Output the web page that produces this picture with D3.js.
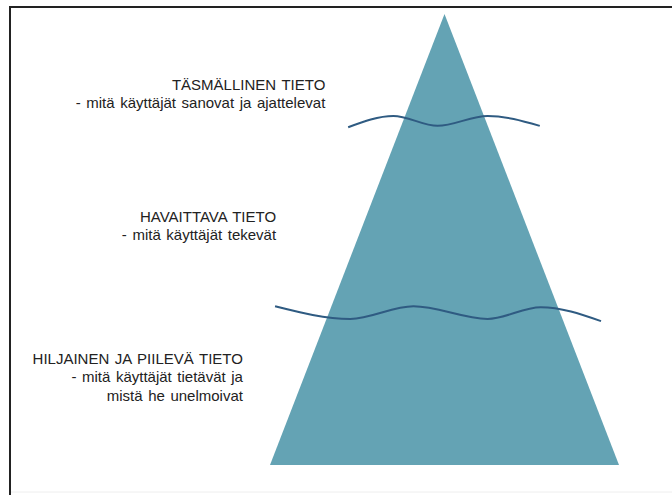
<!DOCTYPE html>
<html>
<head>
<meta charset="utf-8">
<script src="https://cdn.jsdelivr.net/npm/d3@7"></script>
<style>
    html, body { margin: 0; padding: 0; background: #fff; }
    text { font-family: "Liberation Sans", Arial, sans-serif; fill: #222; word-spacing: 1.4px; }
</style>
</head>
<body>
<div id="chart"></div>
<script>
// pyramid in its own units: x -1..1 across the base, depth 0 (apex) .. 1 (base)
var pyramidX = [0, -1, 1];
var pyramidDepth = [0, 1, 1];

// wavy water lines
var wave1X = [-0.552, -0.293, -0.040, 0.247, 0.546];
var wave1Depth = [0.251, 0.226, 0.248, 0.226, 0.248];
var wave2X = [-0.971, -0.540, -0.178, 0.247, 0.552, 0.897];
var wave2Depth = [0.648, 0.676, 0.648, 0.676, 0.650, 0.681];

// labels for each tier
var tierTitles = ["TÄSMÄLLINEN TIETO", "HAVAITTAVA TIETO", "HILJAINEN JA PIILEVÄ TIETO"];
var tierLines = [
    ["- mitä käyttäjät sanovat ja ajattelevat"],
    ["- mitä käyttäjät tekevät"],
    ["- mitä käyttäjät tietävät ja", "mistä he unelmoivat"]
];
var tierDepth = [0.168, 0.461, 0.776];
var tierRight = [-0.683, -0.965, -1.155];

function Pyramid() {
    var self = this;
    self.init();
}

Pyramid.prototype.init = function () {
    var self = this;
    d3.select("#chart").select("svg").remove();
    self.svg = d3.select("#chart").append("svg")
        .attr("width", 672)
        .attr("height", 495);

    self.x = d3.scaleLinear().domain([-1, 1]).range([270, 619]);
    self.y = d3.scaleLinear().domain([0, 1]).range([14, 465]);
};

Pyramid.prototype.update = function () {
    var self = this;
    var x = self.x, y = self.y;

    //frame, top and left only
    self.svg.append("line")
        .attr("x1", 9).attr("y1", 7).attr("x2", 672).attr("y2", 7)
        .style("stroke", "#222").style("stroke-width", 2);
    self.svg.append("line")
        .attr("x1", 10).attr("y1", 6).attr("x2", 10).attr("y2", 495)
        .style("stroke", "#222").style("stroke-width", 2);
    self.svg.append("line")
        .attr("x1", 11).attr("y1", 492).attr("x2", 672).attr("y2", 492)
        .style("stroke", "#eee").style("stroke-width", 1);

    //the pyramid
    var tri = pyramidX.map(function (d, i) { return [x(d), y(pyramidDepth[i])]; });
    self.svg.append("path")
        .attr("d", d3.line()(tri) + "Z")
        .style("fill", "#64a3b4");

    //waves
    var wave = d3.line()
        .x(function (d) { return x(d[0]); })
        .y(function (d) { return y(d[1]); })
        .curve(d3.curveMonotoneX);

    [[wave1X, wave1Depth], [wave2X, wave2Depth]].forEach(function (w) {
        var pts = w[0].map(function (d, i) { return [d, w[1][i]]; });
        self.svg.append("path")
            .attr("d", wave(pts))
            .style("fill", "none")
            .style("stroke", "#2f5b82")
            .style("stroke-width", 2);
    });

    //tier labels
    tierTitles.forEach(function (t, i) {
        var g = self.svg.append("text")
            .attr("text-anchor", "end")
            .attr("font-size", 15)
            .attr("x", x(tierRight[i]))
            .attr("y", y(tierDepth[i]));
        g.append("tspan")
            .attr("x", x(tierRight[i]))
            .text(t);
        tierLines[i].forEach(function (l) {
            g.append("tspan")
                .attr("x", x(tierRight[i]))
                .attr("dy", 18.5)
                .text(l);
        });
    });
};

var chart = new Pyramid();
chart.update();
</script>
</body>
</html>
